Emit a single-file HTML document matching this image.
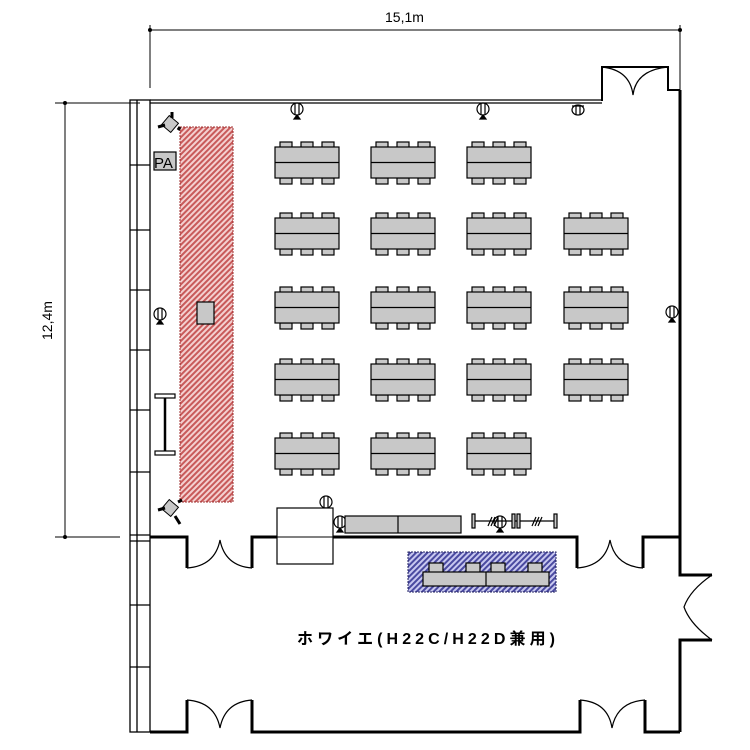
<!DOCTYPE html>
<html><head><meta charset="utf-8"><style>
html,body{margin:0;padding:0;background:#fff;}
svg{display:block;}
text{font-family:"Liberation Sans","Noto Sans CJK JP",sans-serif;}
</style></head><body>
<svg width="750" height="750" viewBox="0 0 750 750" xmlns="http://www.w3.org/2000/svg">
<defs>
<pattern id="red" width="4" height="4" patternUnits="userSpaceOnUse" patternTransform="rotate(45)">
<rect width="4" height="4" fill="#f4d0d0"/><rect width="2" height="4" fill="#c85a5a"/></pattern>
<pattern id="blue" width="4" height="4" patternUnits="userSpaceOnUse" patternTransform="rotate(45)">
<rect width="4" height="4" fill="#c8c8f0"/><rect width="2" height="4" fill="#4a4aa0"/></pattern>
<g id="tb">
<g fill="#c8c8c8" stroke="#000" stroke-width="1.2">
<rect x="5" y="0" width="12" height="6"/><rect x="26" y="0" width="12" height="6"/><rect x="47" y="0" width="12" height="6"/>
<rect x="5" y="36" width="12" height="6"/><rect x="26" y="36" width="12" height="6"/><rect x="47" y="36" width="12" height="6"/>
<rect x="0" y="5" width="64" height="31"/>
</g>
<line x1="0" y1="20.5" x2="64" y2="20.5" stroke="#000" stroke-width="1.2"/>
</g>
<g id="sp" fill="none" stroke="#000" stroke-width="1.2">
<ellipse cx="0" cy="0" rx="6" ry="6"/><line x1="-2" y1="-6" x2="-2" y2="6"/><line x1="2" y1="-6" x2="2" y2="6"/>
<path d="M-3 10 L3 10 L0 6 Z" fill="#000"/>
</g>
</defs>

<!-- dimensions -->
<g stroke="#000" stroke-width="1" fill="none">
<line x1="150" y1="30" x2="680" y2="30"/>
<line x1="150" y1="25" x2="150" y2="88"/>
<line x1="680" y1="25" x2="680" y2="92"/>
<line x1="65" y1="103" x2="65" y2="537"/>
<line x1="55" y1="103" x2="140" y2="103"/>
<line x1="55" y1="537" x2="120" y2="537"/>
</g>
<circle cx="150" cy="30" r="2"/><circle cx="680" cy="30" r="2"/>
<circle cx="65" cy="103" r="2"/><circle cx="65" cy="537" r="2"/>
<text x="385" y="22" font-size="14">15,1m</text>
<text x="0" y="0" font-size="14" transform="translate(52,340) rotate(-90)">12,4m</text>

<!-- left wall strip -->
<g stroke="#000" stroke-width="1.3" fill="none">
<rect x="130" y="100" width="20" height="632"/>
<line x1="137" y1="100" x2="137" y2="732"/>
<line x1="130" y1="165" x2="150" y2="165"/><line x1="130" y1="230" x2="150" y2="230"/>
<line x1="130" y1="290" x2="150" y2="290"/><line x1="130" y1="350" x2="150" y2="350"/>
<line x1="130" y1="410" x2="150" y2="410"/><line x1="130" y1="472" x2="150" y2="472"/>
<line x1="130" y1="535" x2="150" y2="535"/><line x1="130" y1="541" x2="150" y2="541"/>
<line x1="130" y1="605" x2="150" y2="605"/><line x1="130" y1="667" x2="150" y2="667"/>
</g>

<!-- walls -->
<g stroke="#000" fill="none">
<line x1="150" y1="100" x2="602" y2="100" stroke-width="1.2"/>
<line x1="150" y1="103" x2="602" y2="103" stroke-width="1.2"/>
<path d="M602 101 L602 67 L668 67 L668 90 L680 90" stroke-width="2"/>
<path d="M680 90 L680 575 L712 575" stroke-width="3"/>
<path d="M712 640 L680 640 L680 732" stroke-width="3"/>
<path d="M150 537 L187 537 L187 568 M252 568 L252 537 L577 537 L577 568 M643 568 L643 537 L680 537" stroke-width="3"/>
<path d="M150 732 L187 732 L187 700 M252 700 L252 732 L580 732 L580 700 M645 700 L645 732 L680 732" stroke-width="3"/>
<!-- door arcs -->
<g stroke-width="1.2">
<path d="M602 67 Q630 70 633 95 Q636 70 668 67"/>
<path d="M187 568 Q215 566 220 540 Q225 566 252 568"/>
<path d="M577 568 Q605 566 610 540 Q615 566 643 568"/>
<path d="M187 700 Q215 702 220 728 Q225 702 252 700"/>
<path d="M580 700 Q608 702 612 728 Q617 702 645 700"/>
<path d="M712 575 Q690 590 684 607 Q690 624 712 640"/>
</g>
</g>

<!-- stage -->
<rect x="180" y="127" width="53" height="375" fill="url(#red)" stroke="#a03030" stroke-width="1" stroke-dasharray="2,1"/>
<rect x="197" y="302" width="17" height="22" fill="#c8c8c8" stroke="#000" stroke-width="1.2"/>
<rect x="154" y="152" width="22" height="18" fill="#c8c8c8" stroke="#000" stroke-width="1.2"/>
<text x="154" y="168" font-size="15">PA</text>
<!-- corner speakers -->
<g fill="#c8c8c8" stroke="#000"><rect x="164" y="118" width="12" height="12" transform="rotate(40 170 124)"/>
<rect x="164" y="502" width="12" height="12" transform="rotate(40 170 508)"/></g>
<g stroke="#000" stroke-width="3"><line x1="158" y1="127" x2="165" y2="125"/><line x1="172" y1="112" x2="172" y2="118"/><line x1="178" y1="130" x2="180" y2="127"/>
<line x1="158" y1="510" x2="165" y2="508"/><line x1="178" y1="502" x2="182" y2="500"/><line x1="175" y1="516" x2="180" y2="524"/></g>
<!-- screen -->
<g stroke="#000" fill="#fff" stroke-width="1.2"><line x1="165" y1="397" x2="165" y2="452" stroke-width="2.5"/>
<rect x="155" y="394" width="20" height="4"/><rect x="155" y="451" width="20" height="4"/></g>

<!-- tables -->
<use href="#tb" x="275" y="142"/><use href="#tb" x="371" y="142"/><use href="#tb" x="467" y="142"/>
<use href="#tb" x="275" y="213"/><use href="#tb" x="371" y="213"/><use href="#tb" x="467" y="213"/><use href="#tb" x="564" y="213"/>
<use href="#tb" x="275" y="287"/><use href="#tb" x="371" y="287"/><use href="#tb" x="467" y="287"/><use href="#tb" x="564" y="287"/>
<use href="#tb" x="275" y="359"/><use href="#tb" x="371" y="359"/><use href="#tb" x="467" y="359"/><use href="#tb" x="564" y="359"/>
<use href="#tb" x="275" y="433"/><use href="#tb" x="371" y="433"/><use href="#tb" x="467" y="433"/>

<!-- speakers -->
<use href="#sp" x="297" y="109"/><use href="#sp" x="483" y="109"/>
<g stroke="#000" fill="none" stroke-width="1.2"><ellipse cx="578" cy="110" rx="6" ry="5"/><line x1="572" y1="106" x2="584" y2="106"/><line x1="576" y1="105" x2="576" y2="115"/><line x1="580" y1="105" x2="580" y2="115"/></g>
<use href="#sp" x="160" y="314"/><use href="#sp" x="672" y="312"/>
<use href="#sp" x="326" y="502"/><use href="#sp" x="340" y="522"/><use href="#sp" x="500" y="522"/>

<!-- front area -->
<rect x="277" y="508" width="56" height="56" fill="#fff" stroke="#000" stroke-width="1.2"/>
<line x1="277" y1="537" x2="333" y2="537" stroke="#000" stroke-width="1"/>
<rect x="345" y="516" width="116" height="17" fill="#c8c8c8" stroke="#000" stroke-width="1.2"/>
<line x1="398" y1="516" x2="398" y2="533" stroke="#000" stroke-width="1.2"/>
<g stroke="#000" stroke-width="1.2" fill="#c8c8c8">
<line x1="472" y1="521" x2="557" y2="521"/>
<rect x="472" y="514" width="3" height="14"/><rect x="512" y="514" width="3" height="14"/><rect x="517" y="514" width="3" height="14"/><rect x="554" y="514" width="3" height="14"/>
<path d="M488 526 L492 517 M491 526 L495 517 M494 526 L498 517 M532 526 L536 517 M535 526 L539 517 M538 526 L542 517" fill="none"/>
</g>

<!-- foyer counter -->
<rect x="408" y="552" width="148" height="40" fill="url(#blue)" stroke="#202060" stroke-width="1" stroke-dasharray="2,1"/>
<g fill="#c8c8c8" stroke="#000" stroke-width="1.2">
<rect x="429" y="563" width="14" height="10"/><rect x="466" y="563" width="14" height="10"/><rect x="491" y="563" width="14" height="10"/><rect x="528" y="563" width="14" height="10"/>
<rect x="423" y="572" width="126" height="14"/></g>
<line x1="486" y1="572" x2="486" y2="586" stroke="#000" stroke-width="1.2"/>

<text x="297" y="644" font-size="16" font-weight="bold" textLength="258" lengthAdjust="spacing">ホワイエ(H22C/H22D兼用)</text>
</svg>
</body></html>
